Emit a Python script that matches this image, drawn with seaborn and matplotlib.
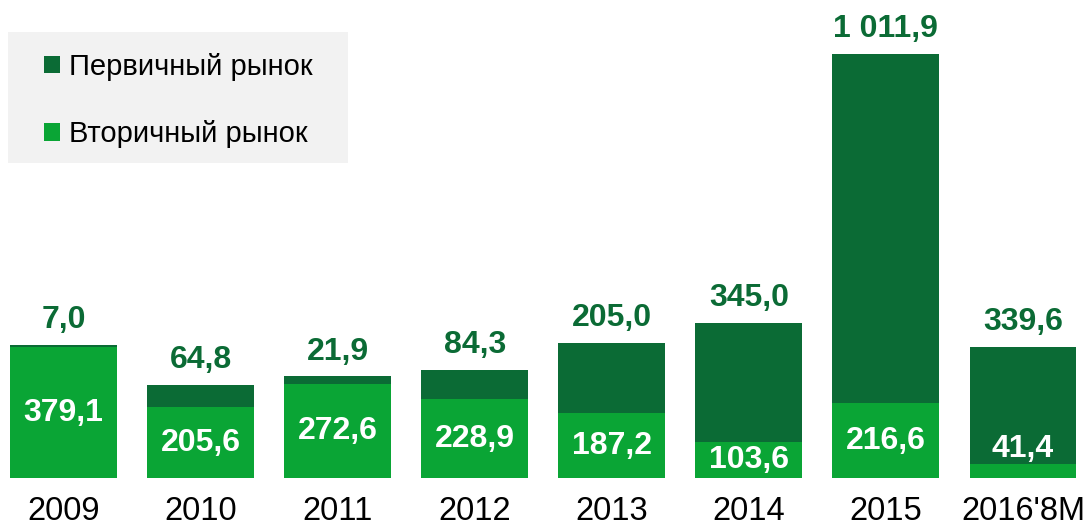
import matplotlib
matplotlib.use("Agg")
import matplotlib.pyplot as plt
from matplotlib.patches import Rectangle
import seaborn as sns
import pandas as pd

years = ["2009", "2010", "2011", "2012", "2013", "2014", "2015", "2016'8M"]
secondary = [379.1, 205.6, 272.6, 228.9, 187.2, 103.6, 216.6, 41.4]
primary = [7.0, 64.8, 21.9, 84.3, 205.0, 345.0, 1011.9, 339.6]
series_names = ["Первичный рынок", "Вторичный рынок"]

DARK = "#0B6B35"
LIGHT = "#0AA535"

sns.set_theme(style="white")
plt.rcParams["font.family"] = ["Liberation Sans", "DejaVu Sans"]

df = pd.DataFrame({"year": years, "secondary": secondary, "primary": primary})
df["total"] = df["secondary"] + df["primary"]

W, H = 1086, 529
fig = plt.figure(figsize=(W / 100, H / 100), dpi=100)
ax = fig.add_axes([0, 51 / H, 1, 1 - 51 / H])

sns.barplot(data=df, x="year", y="total", color=DARK, width=0.78,
            saturation=1, label=series_names[0], linewidth=0, ax=ax)
sns.barplot(data=df, x="year", y="secondary", color=LIGHT, width=0.78,
            saturation=1, label=series_names[1], linewidth=0, ax=ax)

def fmt(v):
    return f"{v:,.1f}".replace(",", " ").replace(".", ",")

FS = 23
for i, (s, p, t) in enumerate(zip(df["secondary"], df["primary"], df["total"])):
    ax.annotate(fmt(p), (i, t), xytext=(0, 7), textcoords="offset points",
                ha="center", va="bottom", color=DARK, fontsize=FS,
                fontweight="bold")
    if s > 60:
        ax.text(i, s / 2, fmt(s), ha="center", va="center", color="white",
                fontsize=FS, fontweight="bold")
    else:
        ax.annotate(fmt(s), (i, s), xytext=(0, 0), textcoords="offset points",
                    ha="center", va="bottom", color="white", fontsize=FS,
                    fontweight="bold")

ax.set_xlim(-0.464, 7.46)
ax.set_ylim(0, 1385)
ax.set_xlabel("")
ax.set_ylabel("")
ax.set_yticks([])
ax.tick_params(axis="x", length=0, pad=13, labelsize=23.5, labelcolor="black")
for sp in ax.spines.values():
    sp.set_visible(False)

# legend background box
fig.patches.append(Rectangle((8 / W, 1 - 163 / H), 340 / W, 131 / H,
                             transform=fig.transFigure, facecolor="#F2F2F2",
                             edgecolor="none", zorder=0))

leg = fig.legend(loc="upper left", bbox_to_anchor=(44 / W, 1 - 53 / H),
                 frameon=False, fontsize=21, handlelength=0.55,
                 handleheight=0.55, handletextpad=0.3, borderpad=0,
                 labelspacing=1.35, borderaxespad=0)
for t in leg.get_texts():
    t.set_color("black")
if ax.get_legend():
    ax.get_legend().remove()

fig.savefig("out.png", dpi=100)
